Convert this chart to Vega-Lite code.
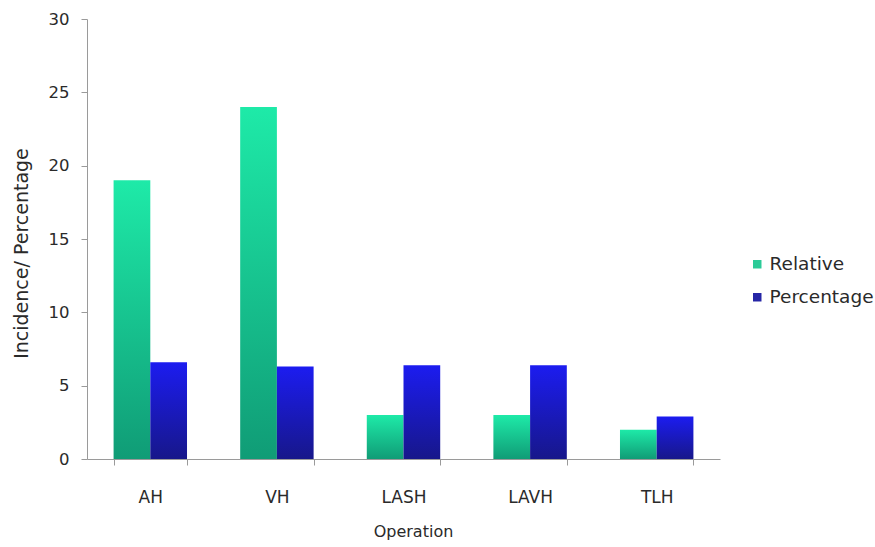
{
  "$schema": "https://vega.github.io/schema/vega-lite/v6.json",
  "width": 633,
  "height": 440,
  "autosize": {"type": "none"},
  "padding": {"left": 87, "top": 19, "right": 155, "bottom": 88},
  "background": "white",
  "config": {
    "view": {"stroke": null},
    "font": "DejaVu Sans",
    "axis": {"labelFont": "DejaVu Sans", "titleFont": "DejaVu Sans", "labelColor": "#2a2a2a", "titleColor": "#2a2a2a", "domainColor": "#9a9a9a", "tickColor": "#9a9a9a", "grid": false}
  },
  "data": {
    "values": [
      {"op": "AH", "series": "Relative", "value": 19},
      {"op": "AH", "series": "Percentage", "value": 6.6},
      {"op": "VH", "series": "Relative", "value": 24},
      {"op": "VH", "series": "Percentage", "value": 6.3},
      {"op": "LASH", "series": "Relative", "value": 3},
      {"op": "LASH", "series": "Percentage", "value": 6.4},
      {"op": "LAVH", "series": "Relative", "value": 3},
      {"op": "LAVH", "series": "Percentage", "value": 6.4},
      {"op": "TLH", "series": "Relative", "value": 2},
      {"op": "TLH", "series": "Percentage", "value": 2.9}
    ]
  },
  "encoding": {
    "x": {
      "field": "op", "type": "nominal", "sort": ["AH", "VH", "LASH", "LAVH", "TLH"],
      "scale": {"paddingInner": 0.42, "paddingOuter": 0.21},
      "axis": {"title": "Operation", "labelAngle": 0, "tickBand": "extent", "tickSize": 6, "labelPadding": 24, "labelFontSize": 17, "labelFontWeight": "normal", "titleFontSize": 16, "titleFontWeight": "normal", "titlePadding": 18, "titleX": 326}
    },
    "xOffset": {"field": "series", "type": "nominal", "scale": {"domain": ["Relative", "Percentage"], "paddingInner": 0, "paddingOuter": 0}},
    "y": {
      "field": "value", "type": "quantitative",
      "scale": {"domain": [0, 30], "nice": false},
      "axis": {"title": "Incidence/ Percentage", "values": [0, 5, 10, 15, 20, 25, 30], "tickSize": 6, "labelPadding": 12, "labelFontSize": 16.5, "titleFontSize": 19, "titleFontWeight": "normal", "titlePadding": 17, "titleY": 234}
    }
  },
  "layer": [
    {
      "transform": [{"filter": "datum.series === 'Relative'"}],
      "mark": {"type": "bar", "color": {"gradient": "linear", "x1": 0, "y1": 0, "x2": 0, "y2": 1, "stops": [{"offset": 0, "color": "#1eeaa8"}, {"offset": 1, "color": "#109c76"}]}}
    },
    {
      "transform": [{"filter": "datum.series === 'Percentage'"}],
      "mark": {"type": "bar", "color": {"gradient": "linear", "x1": 0, "y1": 0, "x2": 0, "y2": 1, "stops": [{"offset": 0, "color": "#1c1cf0"}, {"offset": 1, "color": "#17178a"}]}}
    },
    {
      "mark": {"type": "bar", "opacity": 0},
      "encoding": {
        "color": {
          "field": "series", "type": "nominal",
          "scale": {"domain": ["Relative", "Percentage"], "range": ["#2ccb98", "#2626a6"]},
          "legend": {"title": null, "orient": "none", "legendX": 661, "legendY": 236, "symbolType": "square", "symbolOpacity": 1, "symbolSize": 72, "symbolStrokeWidth": 0, "labelFont": "DejaVu Sans", "labelFontSize": 18.5, "labelColor": "#2a2a2a", "rowPadding": 14, "labelOffset": 3}
        }
      }
    }
  ]
}
